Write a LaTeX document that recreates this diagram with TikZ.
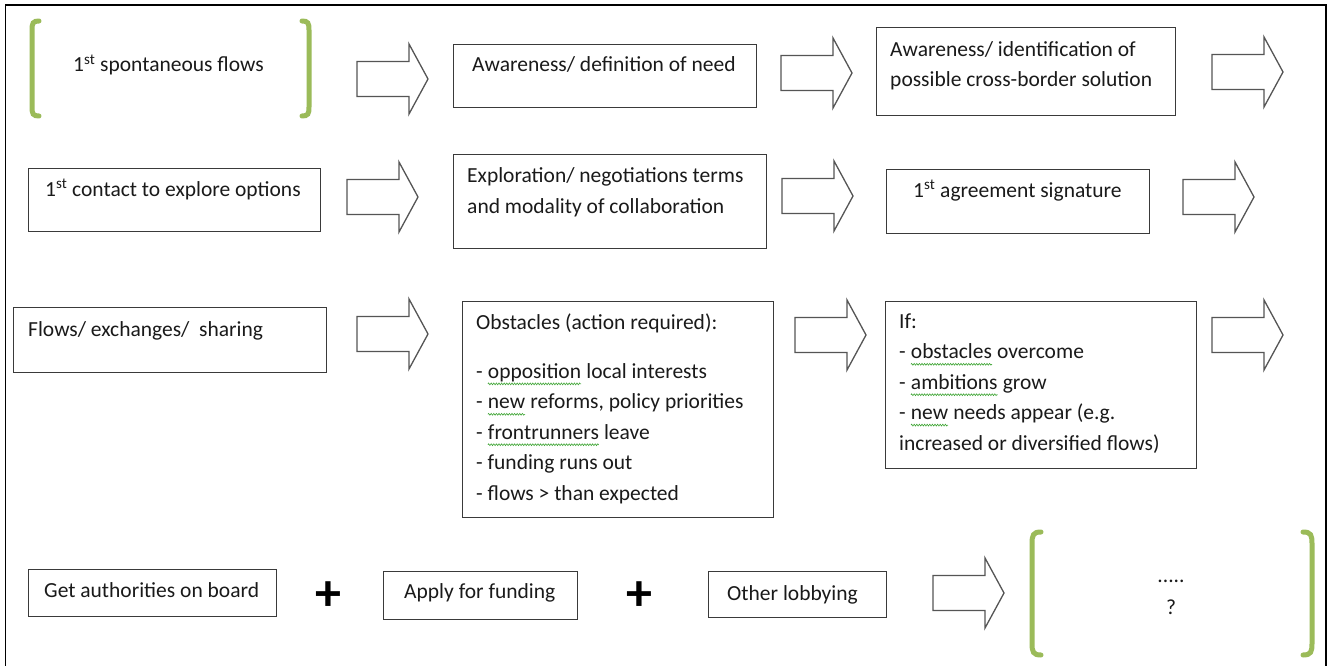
\documentclass[tikz,border=0pt]{standalone}
\usepackage{fontspec}
\setmainfont{Carlito}
\usetikzlibrary{decorations.pathmorphing}
\definecolor{brgreen}{HTML}{9BBB59}
\definecolor{sqgreen}{HTML}{3FA535}
\definecolor{lineg}{HTML}{3A3A3A}
\definecolor{arrowg}{HTML}{555555}
\definecolor{txtc}{HTML}{1A1A1A}
\newcommand{\sq}[1]{\tikz[baseline=(w.base)]{\node[inner sep=0pt, outer sep=0pt, anchor=base west] (w) at (0,0) {#1};
  \draw[sqgreen, line width=0.6pt, decorate, decoration={zigzag, amplitude=0.9pt, segment length=2.6pt}] ([yshift=-5.5pt]w.base west) -- ([yshift=-5.5pt]w.base east);}}
\tikzset{
  box/.style={draw=lineg, line width=1.3pt, inner sep=0pt, anchor=north west},
  txt/.style={text=txtc, inner sep=0pt, anchor=base west, align=left,
    font=\fontsize{21.5}{30.4}\selectfont},
  arrowst/.style={draw=arrowg, line width=1.3pt, fill=white, line join=miter},
  barrow/.pic={\draw[arrowst] (0,-17.5) -- (52,-17.5) -- (52,-35) -- (71,0) -- (52,35) -- (52,17.5) -- (0,17.5) -- cycle;},
  brk/.style={draw=brgreen, line width=5pt, line cap=round},
  plus/.style={text=black, inner sep=0pt, font=\fontsize{52}{52}\selectfont\bfseries}
}
\begin{document}
\begin{tikzpicture}[x=1pt,y=-1pt]
\useasboundingbox (0,0) rectangle (1332,666);
\fill[white] (0,0) rectangle (1332,666);
\draw[line width=1.4pt, black] (5.5,5) rectangle (1326,670);

% ---------- row 1 (multi-line texts are placed by the baseline of their last line)
\draw[brk] (39,21) .. controls (33,21) and (32,23) .. (32,30) -- (32,107) .. controls (32,114) and (33,116) .. (39,116);
\draw[brk] (302,21) .. controls (308,21) and (309,23) .. (309,30) -- (309,107) .. controls (309,114) and (308,116) .. (302,116);
\node[txt] (t1) at (73,72) {1\textsuperscript{st} spontaneous flows};
\pic (a1) at (357,79) {barrow};
\node[box, minimum width=303pt, minimum height=63pt] (need) at (453,44) {};
\node[txt] (tneed) at (472,72) {Awareness/ definition of need};
\pic (a2) at (781,73) {barrow};
\node[box, minimum width=299pt, minimum height=88pt] (ident) at (876,27) {};
\node[txt] (tident) at (890,87) {Awareness/ identification of\\possible cross-border solution};
\pic (a3) at (1212,72) {barrow};

% ---------- row 2
\node[box, minimum width=292pt, minimum height=63pt] (contact) at (28,168) {};
\node[txt] (tcontact) at (45,196) {1\textsuperscript{st} contact to explore options};
\pic (a4) at (347,197) {barrow};
\node[box, minimum width=313pt, minimum height=94pt] (explore) at (453,154) {};
\node[txt] (texplore) at (467,213) {Exploration/ negotiations terms\\and modality of collaboration};
\pic (a5) at (782,196) {barrow};
\node[box, minimum width=263pt, minimum height=64pt] (agree) at (886,169) {};
\node[txt] (tagree) at (913,197) {1\textsuperscript{st} agreement signature};
\pic (a6) at (1183,197) {barrow};

% ---------- row 3
\node[box, minimum width=313pt, minimum height=65pt] (flows) at (13,307) {};
\node[txt] (tflows) at (28,336) {Flows/ exchanges/~ sharing};
\pic (a7) at (357,334) {barrow};
\node[box, minimum width=311pt, minimum height=216pt] (obst) at (462,301) {};
\node[txt] (tobst) at (476,500) {Obstacles (action required):\\[18.6pt]
- \sq{opposition} local interests\\
- \sq{new} reforms, policy priorities\\
- \sq{frontrunners} leave\\
- funding runs out\\
- flows > than expected};
\pic (a8) at (795,335) {barrow};
\node[box, minimum width=311pt, minimum height=167pt] (ifbox) at (885,301) {};
\node[txt] (tif) at (899,450) {If:\\
- \sq{obstacles} overcome\\
- \sq{ambitions} grow\\
- \sq{new} needs appear (e.g.\\
increased or diversified flows)};
\pic (a9) at (1212,335) {barrow};

% ---------- row 4
\node[box, minimum width=248pt, minimum height=47pt] (auth) at (28,569) {};
\node[txt] (tauth) at (44,597) {Get authorities on board};
\node[plus] (p1) at (328,596) {+};
\node[box, minimum width=194pt, minimum height=48pt] (apply) at (383,571) {};
\node[txt] (tapply) at (404,598) {Apply for funding};
\node[plus] (p2) at (639,596) {+};
\node[box, minimum width=178pt, minimum height=46pt] (other) at (708,571) {};
\node[txt] (tother) at (727,600) {Other lobbying};
\pic (a10) at (933,593) {barrow};
\draw[brk] (1041,532) .. controls (1033,532) and (1032,535) .. (1032,544) -- (1032,643) .. controls (1032,652) and (1033,655) .. (1041,655);
\draw[brk] (1303,532) .. controls (1311,532) and (1312,535) .. (1312,544) -- (1312,643) .. controls (1312,652) and (1311,655) .. (1303,655);
\node[txt, anchor=base] (tdots) at (1171,582) {.....};
\node[txt, anchor=base] (tq) at (1171,614) {?};
\end{tikzpicture}
\end{document}
